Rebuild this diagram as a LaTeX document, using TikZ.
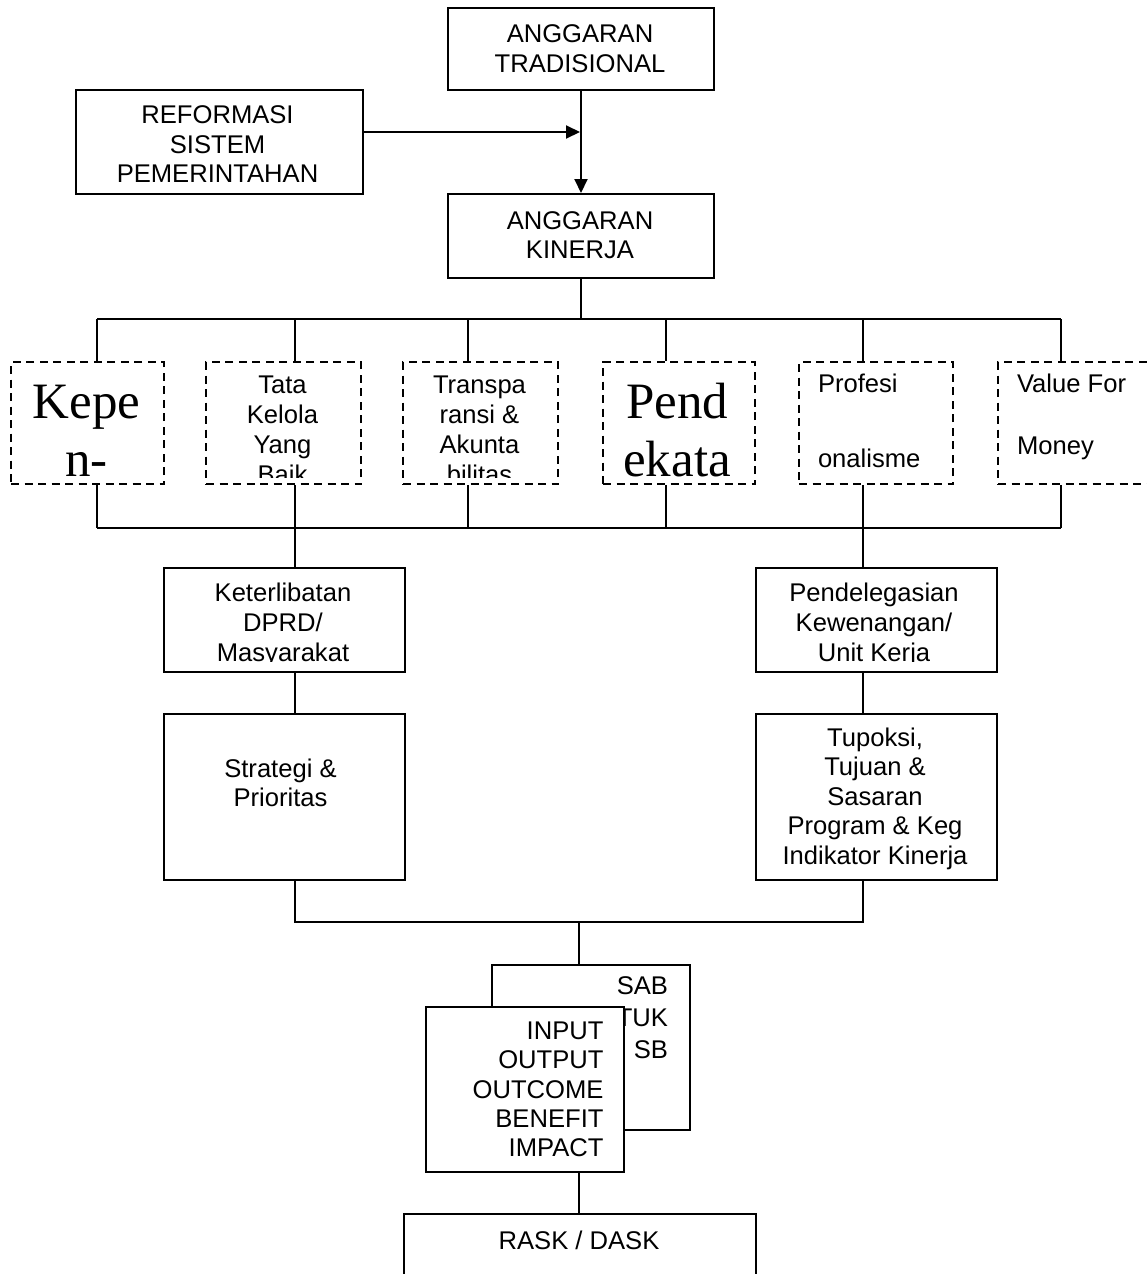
\documentclass[tikz,border=0pt]{standalone}
\usepackage{fontspec}
\setmainfont{Liberation Sans}
\newfontfamily\myserif{Liberation Serif}
\usetikzlibrary{arrows.meta}
\newcommand\mystrut{\rule{0pt}{20pt}}
\newcommand\mybigstrut{\rule{0pt}{40pt}}
\begin{document}
\begin{tikzpicture}[x=1pt,y=-1pt,line width=2pt,
  box/.style={draw,line width=2pt,inner sep=0pt,anchor=north west},
  dbox/.style={box,dash pattern=on 8pt off 5.5pt},
  wbox/.style={box,fill=white},
  arr/.style={-{Triangle[length=14pt,width=13pt]}},
  txt/.style={inner sep=0pt,align=center,anchor=north,font=\fontsize{25.6}{29.5}\selectfont},
  txtb/.style={txt,font=\fontsize{25.6}{30}\selectfont},
  txtser/.style={txt,font=\myserif\fontsize{51}{58}\selectfont},
  txtl/.style={inner sep=0pt,align=left,anchor=north west},
  txtr/.style={inner sep=0pt,align=right,anchor=north east}]
\useasboundingbox (0,0) rectangle (1147,1274);
\clip (0,0) rectangle (1147,1274);
\fill[white] (0,0) rectangle (1147,1274);

% top boxes
\node[box,minimum width=266pt,minimum height=82pt] (trad) at (447,7) {};
\node[txt] (ttrad) at (580,21.5) {\mystrut ANGGARAN\\TRADISIONAL};
\node[box,minimum width=287pt,minimum height=104pt] (ref) at (75,89) {};
\node[txt] (tref) at (217.5,102.5) {\mystrut REFORMASI\\SISTEM\\PEMERINTAHAN};
\node[box,minimum width=266pt,minimum height=84pt] (kin) at (447,193) {};
\node[txt] (tkin) at (580,208) {\mystrut ANGGARAN\\KINERJA};

\coordinate (j) at (580,132);
\draw[arr] (ref.east |- j) -- (j);
\draw[arr] (trad.south) -- (kin.north);

% dashed boxes
\node[dbox,minimum width=153pt,minimum height=122pt] (d1) at (10,361) {};
\node[dbox,minimum width=155pt,minimum height=122pt] (d2) at (205,361) {};
\node[dbox,minimum width=155pt,minimum height=122pt] (d3) at (402,361) {};
\node[dbox,minimum width=152pt,minimum height=122pt] (d4) at (602,361) {};
\node[dbox,minimum width=154pt,minimum height=122pt] (d5) at (798,361) {};
\node[dbox,minimum width=155pt,minimum height=122pt] (d6) at (997,361) {};

\begin{scope}
\clip (10,361) rectangle (163,477);
\node[txtser] (t1) at (86.4,377) {\mybigstrut Kepe\\n-};
\end{scope}
\begin{scope}
\clip (205,361) rectangle (360,477);
\node[txtb] (t2) at (282.5,372.7) {\mystrut Tata\\Kelola\\Yang\\Baik};
\end{scope}
\begin{scope}
\clip (402,361) rectangle (557,477);
\node[txtb] (t3) at (479.5,372.7) {\mystrut Transpa\\ransi \&\\Akunta\\bilitas};
\end{scope}
\begin{scope}
\clip (602,361) rectangle (754,477);
\node[txtser] (t4) at (677,377) {\mybigstrut Pend\\ekata};
\end{scope}
\node[txtl,font=\fontsize{25.6}{75}\selectfont] (t5) at (817,371.7) {\mystrut Profesi\\onalisme};
\node[txtl,font=\fontsize{25.6}{62}\selectfont] (t6) at (1016,371.7) {\mystrut Value For\\Money};

% buses
\coordinate (kb) at (580,319);
\foreach \i/\x in {1/97,2/295,3/468,4/666,5/863,6/1061}{
  \coordinate (u\i) at (\x,319);
  \coordinate (b\i) at (\x,528);
}
\draw (kin.south) -- (kin.south |- kb);
\draw (u1) -- (u6);
\draw (b1) -- (b6);
\foreach \i in {1,...,6}{
  \draw (u\i) -- (u\i |- d\i.north);
  \draw (d\i.south -| b\i) -- (b\i);
}

% middle boxes
\node[box,minimum width=241pt,minimum height=104pt] (ket) at (163,567) {};
\node[box,minimum width=241pt,minimum height=104pt] (pen) at (755,567) {};
\begin{scope}
\clip (163,567) rectangle (404,661);
\node[txtb] (tket) at (283,580.7) {\mystrut Keterlibatan\\DPRD/\\Masyarakat};
\end{scope}
\begin{scope}
\clip (755,567) rectangle (996,661);
\node[txtb] (tpen) at (874,580.7) {\mystrut Pendelegasian\\Kewenangan/\\Unit Kerja};
\end{scope}
\draw (b2) -- (b2 |- ket.north);
\draw (b5) -- (b5 |- pen.north);

\node[box,minimum width=241pt,minimum height=166pt] (str) at (163,713) {};
\node[box,minimum width=241pt,minimum height=166pt] (tup) at (755,713) {};
\node[txt,font=\fontsize{25.6}{29}\selectfont] (tstr) at (280.5,756.7) {\mystrut Strategi \&\\Prioritas};
\node[txt] (ttup) at (875,725.3) {\mystrut Tupoksi,\\Tujuan \&\\Sasaran\\Program \& Keg\\Indikator Kinerja};
\draw (ket.south -| b2) -- (str.north -| b2);
\draw (pen.south -| b5) -- (tup.north -| b5);

% lower part
\coordinate (m1) at (295,922);
\coordinate (m2) at (863,922);
\coordinate (m0) at (579,922);
\draw (str.south -| m1) -- (m1) -- (m2) -- (tup.south -| m2);

\node[box,minimum width=198pt,minimum height=165pt] (sab) at (491,964) {};
\node[txtr,font=\fontsize{25.6}{32}\selectfont] (tsab) at (669,973.3) {\mystrut SAB\\TUK\\SB};
\draw (m0) -- (m0 |- sab.north);
\node[wbox,minimum width=198pt,minimum height=165pt] (inp) at (425,1006) {};
\node[txtr,font=\fontsize{25.6}{29.4}\selectfont] (tinp) at (604.5,1018.3) {\mystrut INPUT\\OUTPUT\\OUTCOME\\BENEFIT\\IMPACT};

\node[box,minimum width=352pt,minimum height=100pt] (rask) at (403,1213) {};
\node[txt] (trask) at (579,1228.3) {\mystrut RASK / DASK};
\draw (inp.south -| m0) -- (rask.north -| m0);
\end{tikzpicture}
\end{document}
